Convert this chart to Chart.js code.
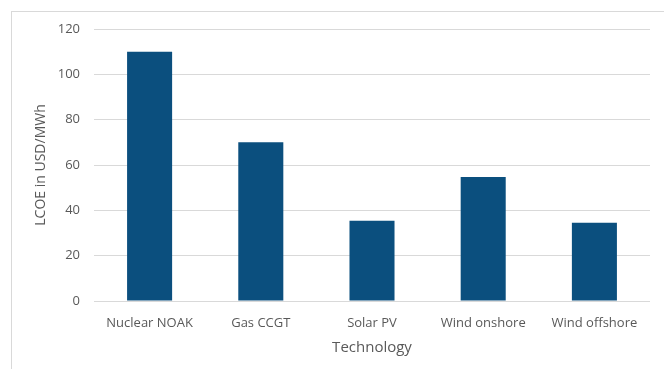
<!DOCTYPE html>
<html>
<head>
<meta charset="utf-8">
<script src="https://cdn.jsdelivr.net/npm/chart.js@4/dist/chart.umd.min.js"></script>
<style>
  html, body { margin: 0; padding: 0; background: #ffffff; }
  #wrap { position: relative; width: 664px; height: 369px; overflow: hidden; }
  #frame { position: absolute; left: 11px; top: 11px; width: 700px; height: 400px;
           border-left: 1px solid #d9d9d9; border-top: 1px solid #d9d9d9; }
  #c { position: absolute; left: 0; top: 0; }
</style>
</head>
<body>
<div id="wrap">
  <div id="frame"></div>
  <canvas id="c" width="664" height="369"></canvas>
</div>
<script>
// Levelised cost of electricity by technology
const technologies = ['Nuclear NOAK', 'Gas CCGT', 'Solar PV', 'Wind onshore', 'Wind offshore'];
const lcoeUsdPerMWh = [110, 70, 35.4, 54.7, 34.5];
const yTicks = [0, 20, 40, 60, 80, 100, 120];

const textColor = '#595959';
const gridColor = '#d9d9d9';
const barColor = '#0b4f7e';
const fontFamily = '"Open Sans", "Liberation Sans", sans-serif';

new Chart(document.getElementById('c'), {
  type: 'bar',
  data: {
    labels: technologies,
    datasets: [{
      data: lcoeUsdPerMWh,
      backgroundColor: barColor,
      borderWidth: 0,
      categoryPercentage: 1.0,
      barPercentage: 0.405
    }]
  },
  options: {
    responsive: false,
    animation: false,
    layout: { padding: { top: 29, right: 14, bottom: 12, left: 33 } },
    plugins: { legend: { display: false }, tooltip: { enabled: false } },
    scales: {
      x: {
        grid: { display: false },
        border: { display: false },
        ticks: { color: textColor, font: { family: fontFamily, size: 13 }, padding: 6, maxRotation: 0 },
        title: { display: true, text: 'Technology', color: textColor,
                 font: { family: fontFamily, size: 15 }, padding: { top: 0, bottom: 0 } },
        afterFit: s => { s.height = 56; }
      },
      y: {
        min: 0, max: 120,
        afterBuildTicks: s => { s.ticks = yTicks.map(v => ({ value: v })); },
        grid: { color: gridColor, lineWidth: 1, drawTicks: false },
        border: { display: false },
        ticks: { color: textColor, font: { family: fontFamily, size: 13 }, padding: 14 },
        title: { display: true, text: 'LCOE in USD/MWh', color: textColor,
                 font: { family: fontFamily, size: 14 }, padding: { top: 0, bottom: 0 } },
        afterFit: s => { s.width = 61; }
      }
    }
  }
});
</script>
</body>
</html>
